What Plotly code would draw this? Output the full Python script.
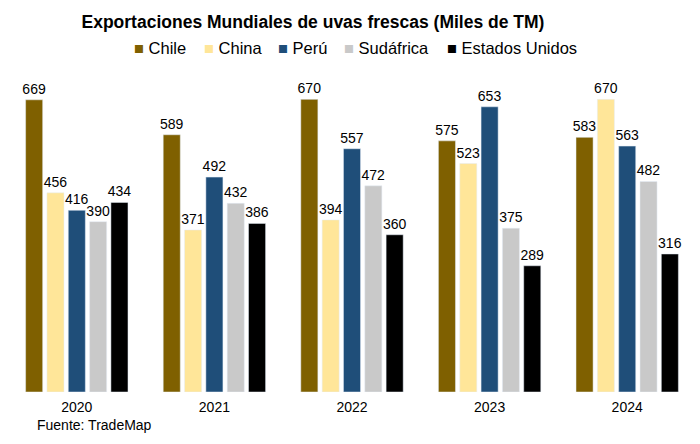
import plotly.graph_objects as go

years = ["2020", "2021", "2022", "2023", "2024"]
chile = [669, 589, 670, 575, 583]
china = [456, 371, 394, 523, 670]
peru = [416, 492, 557, 653, 563]
sudafrica = [390, 432, 472, 375, 482]
eeuu = [434, 386, 360, 289, 316]

series = [
    ("Chile", chile, "#7F6000"),
    ("China", china, "#FFE699"),
    ("Perú", peru, "#1F4E79"),
    ("Sudáfrica", sudafrica, "#C9C9C9"),
    ("Estados Unidos", eeuu, "#000000"),
]
# left edge of each legend entry (paper x)
legend_x = [0.1802, 0.282, 0.3895, 0.4855, 0.635]

fig = go.Figure()
for name, vals, color in series:
    fig.add_trace(go.Bar(
        x=years, y=vals, name=name, marker_color=color,
        text=vals, textposition="outside", cliponaxis=False,
        constraintext="none",
        textfont=dict(size=14, color="black"),
    ))

# legend drawn as text: coloured square + name
for (name, vals, color), lx in zip(series, legend_x):
    fig.add_annotation(
        text=f'<span style="color:{color}">■</span> {name}',
        xref="paper", yref="paper", x=lx, y=1.158,
        xanchor="left", yanchor="middle", showarrow=False,
        font=dict(size=16.5),
    )

fig.update_layout(
    width=700, height=444,
    font=dict(family="Liberation Sans, Arial", color="black"),
    barmode="group", bargap=0.225, bargroupgap=0.2,
    plot_bgcolor="white", paper_bgcolor="white",
    margin=dict(l=0, r=12, t=87, b=60, autoexpand=False),
    title=dict(text="<b>Exportaciones Mundiales de uvas frescas (Miles de TM)</b>",
               x=0.4357, xanchor="center", y=0.9685, yanchor="middle",
               font=dict(size=17.5)),
    showlegend=False,
)
fig.update_xaxes(showline=False, ticks="", tickfont=dict(size=14),
                 ticklabelstandoff=5, automargin=False)
fig.update_yaxes(visible=False, range=[0, 680], automargin=False)
fig.add_annotation(text="Fuente: TradeMap", xref="paper", yref="paper",
                   x=0.0392, y=-0.111, xanchor="left", yanchor="middle",
                   showarrow=False, font=dict(size=14))

fig.write_html("out.html")
